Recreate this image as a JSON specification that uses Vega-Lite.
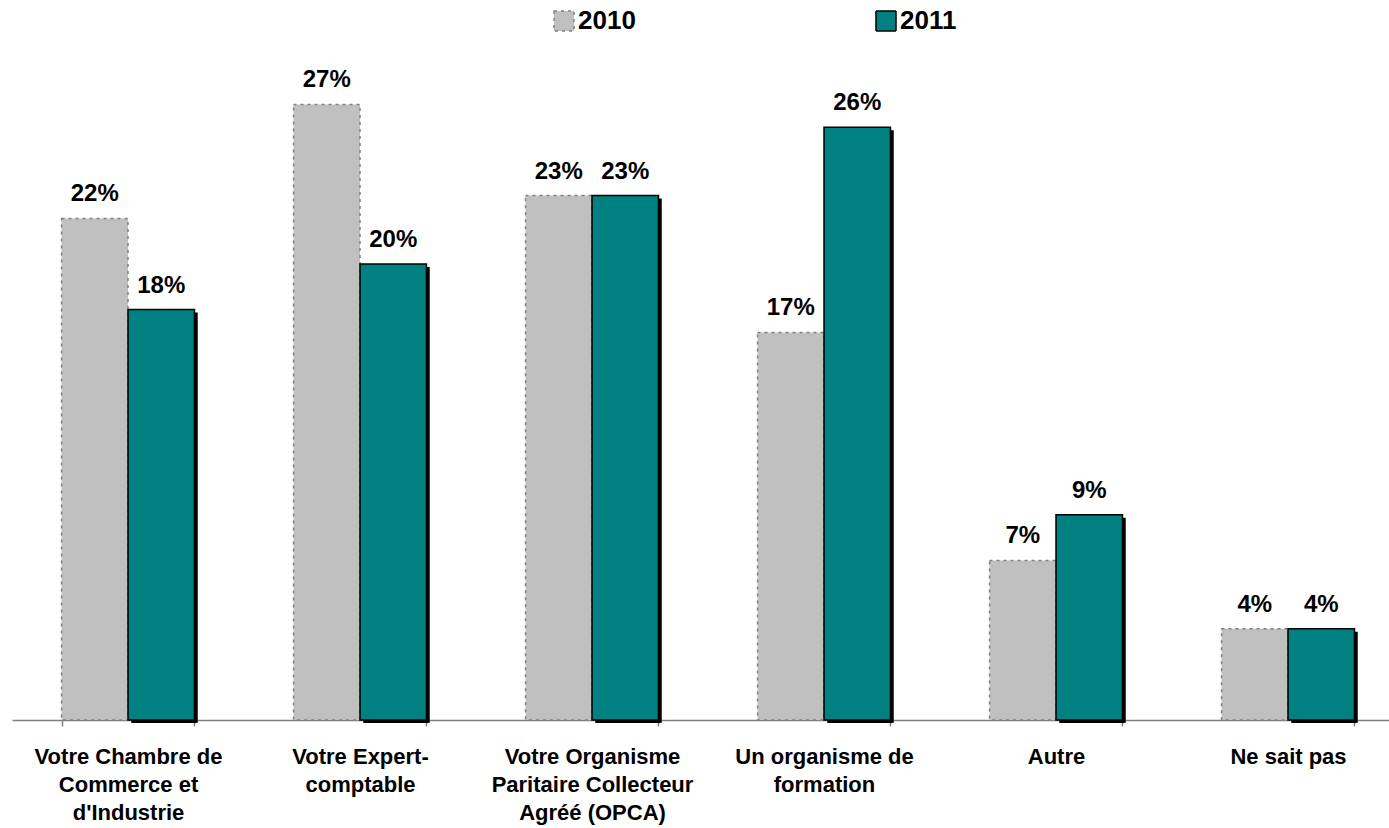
{
  "$schema": "https://vega.github.io/schema/vega-lite/v6.json",
  "width": 1392,
  "height": 684,
  "padding": {"left": 12, "top": 36, "right": 0, "bottom": 108},
  "autosize": {"type": "none"},
  "background": "white",
  "config": {"view": {"stroke": null}, "font": "Liberation Sans"},
  "data": {"values": [
    {"categorie": "Votre Chambre de Commerce et d'Industrie", "annee": "2010", "pct": 0.22},
    {"categorie": "Votre Chambre de Commerce et d'Industrie", "annee": "2011", "pct": 0.18},
    {"categorie": "Votre Expert-comptable", "annee": "2010", "pct": 0.27},
    {"categorie": "Votre Expert-comptable", "annee": "2011", "pct": 0.20},
    {"categorie": "Votre Organisme Paritaire Collecteur Agréé (OPCA)", "annee": "2010", "pct": 0.23},
    {"categorie": "Votre Organisme Paritaire Collecteur Agréé (OPCA)", "annee": "2011", "pct": 0.23},
    {"categorie": "Un organisme de formation", "annee": "2010", "pct": 0.17},
    {"categorie": "Un organisme de formation", "annee": "2011", "pct": 0.26},
    {"categorie": "Autre", "annee": "2010", "pct": 0.07},
    {"categorie": "Autre", "annee": "2011", "pct": 0.09},
    {"categorie": "Ne sait pas", "annee": "2010", "pct": 0.04},
    {"categorie": "Ne sait pas", "annee": "2011", "pct": 0.04}
  ]},
  "encoding": {
    "x": {
      "field": "categorie", "type": "nominal", "sort": null,
      "scale": {"paddingInner": 0.427, "paddingOuter": 0.2135},
      "axis": {
        "title": null, "labelAngle": 0, "domainColor": "#808080", "domainWidth": 1.5,
        "tickColor": "#808080", "tickSize": 6, "tickWidth": 1.5, "tickBand": "extent",
        "labelFontSize": 22, "labelFontWeight": "bold", "labelColor": "black",
        "labelLineHeight": 28, "labelPadding": 20, "labelLimit": 400,
        "labelExpr": "{\"Votre Chambre de Commerce et d'Industrie\": ['Votre Chambre de', 'Commerce et', \"d'Industrie\"], 'Votre Expert-comptable': ['Votre Expert-', 'comptable'], 'Votre Organisme Paritaire Collecteur Agréé (OPCA)': ['Votre Organisme', 'Paritaire Collecteur', 'Agréé (OPCA)'], 'Un organisme de formation': ['Un organisme de', 'formation'], 'Autre': 'Autre', 'Ne sait pas': 'Ne sait pas'}[datum.label]"
      }
    },
    "y": {"field": "pct", "type": "quantitative", "scale": {"domain": [0, 0.3]}, "axis": null}
  },
  "layer": [
    {
      "transform": [{"filter": "datum.annee == '2011'"}],
      "mark": {"type": "bar", "color": "black", "width": {"band": 0.5}, "xOffset": 36.5, "x2Offset": 36.5, "yOffset": 3, "y2Offset": 0}
    },
    {
      "mark": {"type": "bar", "strokeWidth": 1.5},
      "encoding": {
        "xOffset": {"field": "annee", "type": "nominal"},
        "color": {
          "field": "annee", "type": "nominal",
          "scale": {"domain": ["2010", "2011"], "range": ["#C0C0C0", "#008080"]},
          "legend": {
            "title": null, "orient": "none", "legendX": 539, "legendY": -28,
            "direction": "horizontal", "columns": 2, "columnPadding": 237,
            "symbolType": "square", "symbolSize": 400, "symbolStrokeWidth": 1.5,
            "labelFontSize": 26, "labelFontWeight": "bold", "labelColor": "black",
            "labelOffset": 1, "padding": 0
          }
        },
        "stroke": {
          "field": "annee", "type": "nominal",
          "scale": {"domain": ["2010", "2011"], "range": ["#808080", "#000000"]}
        },
        "strokeDash": {
          "field": "annee", "type": "nominal",
          "scale": {"domain": ["2010", "2011"], "range": [[3, 4], [1, 0]]}
        }
      }
    },
    {
      "mark": {"type": "text", "fontSize": 24, "fontWeight": "bold", "color": "black", "baseline": "alphabetic", "dy": -17},
      "encoding": {
        "xOffset": {"field": "annee", "type": "nominal"},
        "text": {"field": "pct", "type": "quantitative", "format": ".0%"}
      }
    }
  ]
}
